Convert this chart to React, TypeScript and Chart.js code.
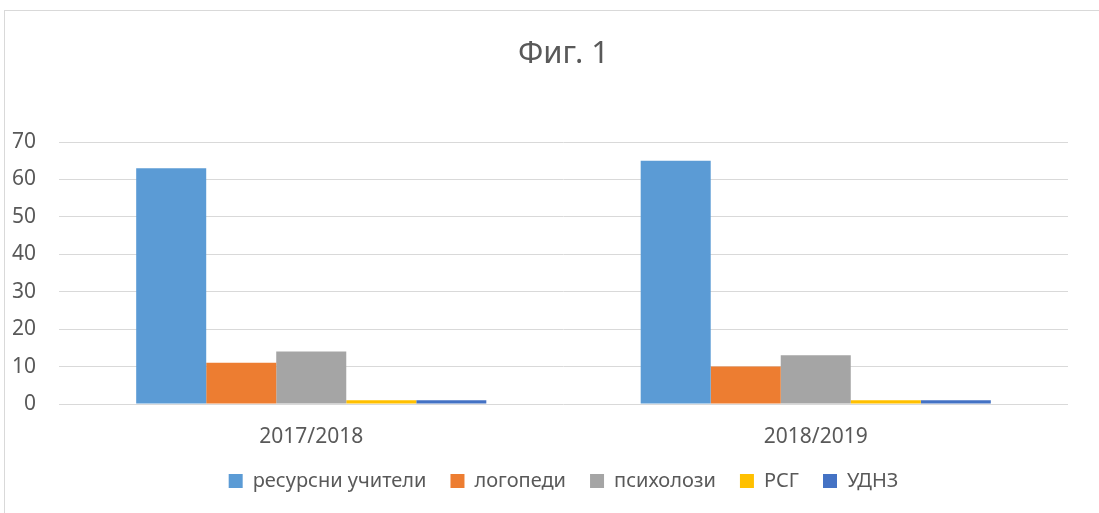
import React, { useEffect, useRef } from "react";
import { Chart, registerables } from "chart.js";

Chart.register(...registerables);

const categories = ["2017/2018", "2018/2019"];
const seriesNames = ["ресурсни учители", "логопеди", "психолози", "РСГ", "УДНЗ"];
const seriesColors = ["#5B9BD5", "#ED7D31", "#A5A5A5", "#FFC000", "#4472C4"];
const resourceTeachers = [63, 65];
const speechTherapists = [11, 10];
const psychologists = [14, 13];
const rsg = [1, 1];
const udnz = [1, 1];
const seriesValues = [resourceTeachers, speechTherapists, psychologists, rsg, udnz];
const titleText = "Фиг. 1";

const FONT = "'Noto Sans', 'DejaVu Sans', sans-serif";
const TEXT = "#595959";

export default function App() {
  const ref = useRef<HTMLCanvasElement | null>(null);
  useEffect(() => {
    if (!ref.current) return;
    const chart = new Chart(ref.current, {
      type: "bar",
      data: {
        labels: categories,
        datasets: seriesNames.map((n, i) => ({
          label: n,
          data: seriesValues[i],
          backgroundColor: seriesColors[i],
          borderWidth: 0,
          categoryPercentage: 0.694,
          barPercentage: 1,
          yAxisID: "y",
        })),
      },
      options: {
        animation: false,
        responsive: false,
        maintainAspectRatio: false,
        layout: { padding: { left: 0, right: 0, top: 0, bottom: 20 } },
        plugins: {
          title: {
            display: true,
            text: titleText,
            color: TEXT,
            font: { family: FONT, size: 31, weight: "normal" },
            padding: { top: 24.4, bottom: 69.4 },
          },
          legend: {
            position: "bottom",
            labels: {
              color: TEXT,
              font: { family: FONT, size: 20 },
              boxWidth: 14,
              boxHeight: 14,
              padding: 24,
            },
          },
          tooltip: { enabled: false },
        },
        scales: {
          x: {
            afterFit: (s: any) => { s.height = 43; },
            grid: { display: false, drawTicks: false },
            border: { display: false },
            ticks: { color: TEXT, font: { family: FONT, size: 21 }, padding: 20 },
          },
          y: {
            min: 0,
            max: 70,
            afterFit: (s: any) => { s.width = 54; },
            grid: { color: "#D9D9D9", lineWidth: 1, drawTicks: false },
            border: { display: false },
            ticks: { stepSize: 10, color: TEXT, font: { family: FONT, size: 21 }, padding: 23 },
          },
          yRight: {
            position: "right",
            min: 0,
            max: 70,
            afterFit: (s: any) => { s.width = 54; },
            grid: { display: false, drawTicks: false },
            border: { display: false },
            ticks: { display: false },
          },
        },
      },
    });
    return () => chart.destroy();
  }, []);
  return (
    <div
      style={{
        position: "fixed",
        left: 4,
        top: 10,
        width: 1117,
        height: 512,
        border: "1px solid #D9D9D9",
        background: "#fff",
      }}
    >
      <canvas ref={ref} width={1117} height={510} style={{ display: "block" }} />
    </div>
  );
}
